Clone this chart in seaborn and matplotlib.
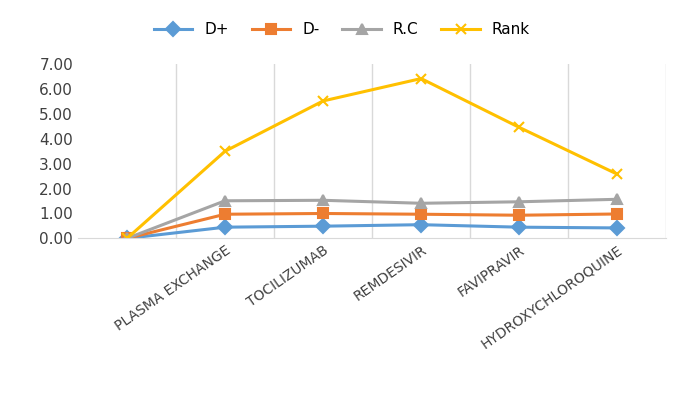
import matplotlib
matplotlib.use("Agg")
import matplotlib.pyplot as plt
import seaborn as sns
import pandas as pd

categories = ["", "PLASMA EXCHANGE", "TOCILIZUMAB", "REMDESIVIR", "FAVIPRAVIR", "HYDROXYCHLOROQUINE"]
d_plus = [0.0, 0.45, 0.49, 0.55, 0.45, 0.42]
d_minus = [0.0, 0.97, 1.00, 0.97, 0.93, 0.98]
rc = [0.0, 1.51, 1.53, 1.41, 1.47, 1.57]
rank = [0.0, 3.50, 5.52, 6.42, 4.46, 2.58]

series = {"D+": d_plus, "D-": d_minus, "R.C": rc, "Rank": rank}
colors = {"D+": "#5B9BD5", "D-": "#ED7D31", "R.C": "#A5A5A5", "Rank": "#FFC000"}
markers = {"D+": "D", "D-": "s", "R.C": "^", "Rank": "x"}

fig = plt.figure(figsize=(6.84, 4.11), dpi=100)
ax = fig.add_axes([0.114, 0.42, 0.86, 0.424])
for name, vals in series.items():
    df = pd.DataFrame({"x": list(range(len(vals))), "value": vals})
    sns.lineplot(data=df, x="x", y="value", color=colors[name], marker=markers[name],
                 linewidth=2.2, markersize=7, markeredgewidth=1.5,
                 markeredgecolor=colors[name], ax=ax, label=name, legend=False)

ax.set_xlim(-0.5, 5.5)
ax.set_ylim(0, 7)
ax.set_yticks([0, 1, 2, 3, 4, 5, 6, 7])
ax.set_yticklabels([f"{v:.2f}" for v in range(8)], fontsize=11, color="#404040")
ax.set_xticks(range(6))
ax.set_xticklabels(categories, rotation=35, ha="right", rotation_mode="anchor",
                   fontsize=10, color="#404040")
for b in [0.5, 1.5, 2.5, 3.5, 4.5, 5.5]:
    ax.axvline(b, color="#D9D9D9", lw=1, zorder=0)
ax.tick_params(length=0)
ax.set_xlabel("")
ax.set_ylabel("")
for s in ["top", "right", "left"]:
    ax.spines[s].set_visible(False)
ax.spines["bottom"].set_color("#D9D9D9")
handles, labels = ax.get_legend_handles_labels()
fig.legend(handles, labels, loc="upper center", bbox_to_anchor=(0.5, 0.98), ncol=4,
           frameon=False, fontsize=11, handlelength=2.5, columnspacing=1.5)
fig.savefig("out.png", dpi=100)
